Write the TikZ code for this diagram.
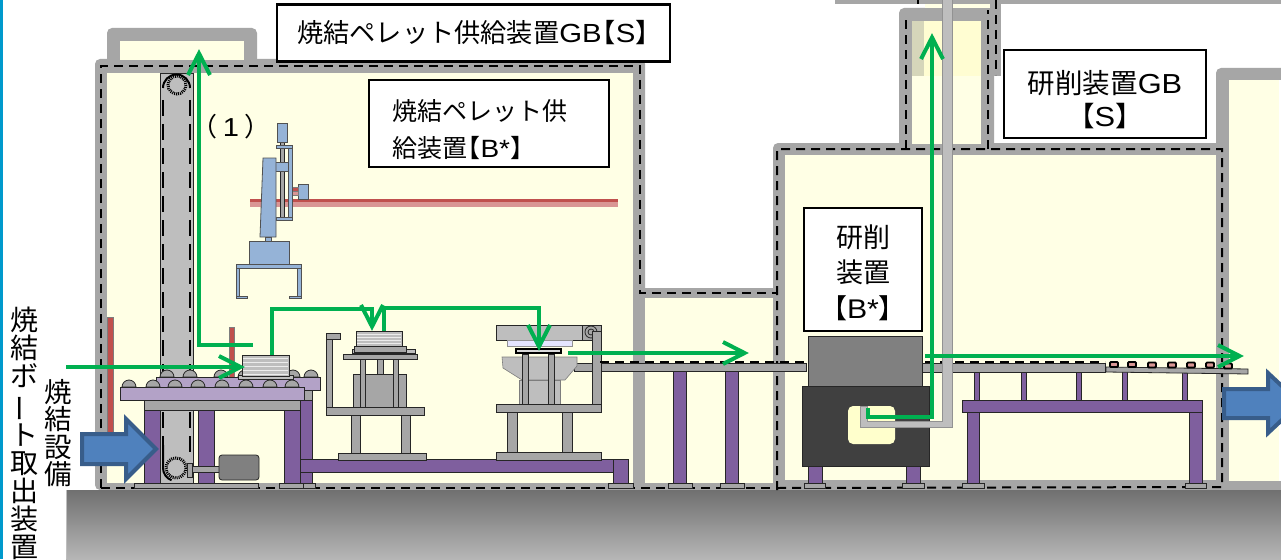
\documentclass[tikz,border=0pt]{standalone}
\usepackage{fontspec}
\setmainfont{Noto Sans CJK JP}
\newfontfamily\lat{Liberation Sans}
\usetikzlibrary{arrows.meta}
\definecolor{yel}{HTML}{FFFFE5}
\definecolor{wall}{HTML}{A6A6A6}
\definecolor{metalc}{HTML}{A6A6A6}
\definecolor{lightm}{HTML}{BEBEBE}
\definecolor{purpc}{HTML}{7F5F9E}
\definecolor{lilac}{HTML}{B3A2C7}
\definecolor{robotc}{HTML}{95B3D7}
\definecolor{redc}{HTML}{C0504D}
\definecolor{pinkc}{HTML}{D99694}
\definecolor{greenc}{HTML}{00B050}
\definecolor{edgec}{HTML}{262626}
\definecolor{stripe}{HTML}{0099CC}
\newcommand{\R}[5]{\path[#5] (#1,#2) rectangle (#3,#4);}
\newcommand{\Roll}[2]{\path[metal] (#1-7,#2) arc[start angle=180,end angle=360,radius=7] -- cycle;}
\newcommand{\VBar}{\rotatebox[origin=c]{90}{ー}}
\newcommand{\LT}[1]{{\lat\scalebox{1.12}[1]{#1}}}
\newcommand{\LB}{\leavevmode\kern-13pt【}
\newcommand{\RB}{】\kern-13pt\relax}
\newcommand{\Chev}[2]{\draw[chev,shift={(#1)},rotate=#2] (-24,11) -- (-2.5,0) -- (-24,-11);}
\tikzset{
  x=1pt,y=-1pt,
  wallf/.style={fill=wall,rounded corners=5pt},
  room/.style={fill=yel},
  metal/.style={fill=metalc,draw=edgec,line width=0.8pt},
  lmetal/.style={fill=lightm,draw=edgec,line width=0.8pt},
  purp/.style={fill=purpc,draw=edgec,line width=0.8pt},
  lil/.style={fill=lilac,draw=edgec,line width=0.8pt},
  robot/.style={fill=robotc,draw=edgec!80,line width=0.8pt},
  redbar/.style={fill=redc,draw=edgec!60,line width=0.6pt},
  encl/.style={draw=black,line width=2pt,dash pattern=on 9pt off 6pt},
  belt/.style={draw=black,line width=2pt,dash pattern=on 16pt off 8pt},
  flow/.style={draw=greenc,line width=4pt,shorten >=3pt},
  chev/.style={draw=greenc,line width=4pt,miter limit=10},
  sprocket/.style={draw=black,line width=3pt,dash pattern=on 1pt off 1pt,fill=lightm},
  lbox/.style={draw=black,line width=2.6pt,fill=white,inner sep=0pt,font=\fontsize{26}{33}\selectfont,align=center},
  ptext/.style={inner sep=0pt,font=\fontsize{26}{32}\selectfont,align=center},
}
\begin{document}
\begin{tikzpicture}
\path[clip] (0,0) rectangle (1281,559);
\fill[white] (0,0) rectangle (1281,559);
\fill[stripe] (0,0) rectangle (3,559);
% walls
\R{107}{28}{257}{75}{wallf}
\R{95}{59}{645}{490}{wallf}
\R{633}{288}{785}{490}{wallf}
\R{773}{143}{1229}{490}{wallf}
\R{899}{8}{994}{150}{wallf}
\R{987}{0}{1001}{76}{fill=wall}
\R{835}{0}{1281}{4}{fill=wall}
\R{925}{4}{990}{8}{room}
\R{1216}{68}{1300}{490}{wallf}
\fill[wall] (1216,480) rectangle (1281,495);
% rooms
\R{120}{41}{244}{60}{room}
\R{107}{73}{633}{483}{room}
\R{645}{298}{773}{483}{room}
\R{785}{155}{1216}{480}{room}
\R{912}{21}{981}{144}{room}
\R{924}{21}{981}{76}{fill={rgb,255:red,255;green,253;blue,210}}
\R{912}{21}{924}{76}{fill={rgb,255:red,214;green,214;blue,186}}
\R{1229}{80}{1279}{481}{room}
\fill[white] (1279,80) rectangle (1281,481);
% ground
\shade[top color={rgb,255:red,112;green,112;blue,112},bottom color={rgb,255:red,182;green,182;blue,182}] (66,490) rectangle (1281,559);
\draw[lightm,line width=1pt] (66,490) -- (66,559);
% dashed enclosures
\draw[encl] (101,488) -- (101,66) -- (640,66) -- (640,293) -- (777,293);
\draw[encl] (101,488) -- (777,488);
\draw[encl] (777,490) -- (777,149) -- (1222,149) -- (1222,487) -- (777,488);
\draw[encl] (906,149) -- (906,18);
\draw[encl] (988,149) -- (988,10);
\draw[encl] (996,0) -- (996,75);
\draw[encl] (918,0) -- (918,4);
% rails behind
\R{107}{317}{113}{432}{redbar}
% conveyor column
\R{160}{73}{193}{483}{fill=lightm,draw=edgec,line width=0.5pt}
\draw[belt] (163,100) -- (163,455);
\draw[belt] (190,100) -- (190,455);
\draw[line width=2pt] (163,88) arc[start angle=180,end angle=360,radius=13.5];
\draw[line width=2pt] (163,445) -- (163,468) arc[start angle=180,end angle=110,radius=13];
\draw[sprocket] (177,85) circle[radius=9];
\draw[sprocket] (176,468) circle[radius=10];
\R{229}{327}{234}{380}{redbar}
% robot rail
\R{250}{199}{618}{202}{fill=redc}
\R{250}{202}{618}{207}{fill=pinkc}
% robot
\R{298}{184}{308}{199}{robot}
\R{292}{187}{298}{191}{fill=redc,draw=edgec!60,line width=.5pt}
\R{292}{191}{298}{195}{fill=pinkc,draw=edgec!60,line width=.5pt}
\R{280}{142}{284}{218}{fill=gray!70,draw=edgec,line width=.8pt}
\R{277}{123}{287}{142}{robot}
\R{288}{147}{292}{220}{robot}
\R{276}{145}{292}{148}{robot}
\R{276}{217}{292}{220}{robot}
\R{275}{162}{288}{171}{robot}
\path[robot] (263,158) -- (276,158) -- (276,237) -- (260,237) -- cycle;
\R{265}{237}{271}{242}{robot}
\R{249}{241}{289}{264}{robot}
\R{236}{264}{301}{268}{robot}
\R{236}{268}{239}{298}{robot}
\R{297}{268}{301}{298}{robot}
\R{236}{296}{247}{298}{robot}
\R{289}{296}{301}{298}{robot}
% roller table
\foreach \rx in {167,190,221,245,270,293,311}{\Roll{\rx}{377}}
\R{156}{377}{320}{390}{lil}
\foreach \rx in {129,153,175,198,222,246,270,292}{\Roll{\rx}{387}}
\R{120}{387}{304}{400}{lil}
\R{144}{400}{300}{410}{metal}
\R{304}{390}{312}{400}{metal}
\R{300}{400}{312}{483}{purp}
\R{284}{410}{300}{483}{purp}
\R{144}{410}{160}{483}{purp}
\R{198}{410}{214}{483}{purp}
\R{134}{483}{258}{488}{metal}
\R{279}{483}{303}{488}{metal}
\R{303}{483}{315}{488}{metal}
\R{192}{466}{219}{472}{metal}
\R{187}{463}{192}{477}{metal}
\path[fill=gray,draw=edgec,line width=.8pt,rounded corners=3pt] (219,455) rectangle (259,480);
% long purple beam
\R{300}{459}{628}{472}{purp}
\R{613}{459}{628}{483}{purp}
\R{608}{483}{633}{488}{metal}
% stack on table
\R{238}{375}{293}{379}{lmetal}
\R{242}{355}{289}{376}{lmetal}
\foreach \sy in {358,362,366,370,374}{\draw[white!85!gray,line width=1pt] (243,\sy) -- (288,\sy);}
% lifter 1
\R{326}{339}{332}{407}{metal}
\R{326}{333}{340}{339}{metal}
\R{351}{415}{360}{453}{metal}
\R{401}{415}{410}{453}{metal}
\R{338}{453}{426}{460}{metal}
\R{353}{374}{406}{407}{metal}
\R{377}{359}{383}{374}{metal}
\R{360}{351}{365}{407}{metal}
\R{393}{351}{398}{407}{metal}
\R{326}{407}{424}{415}{metal}
\R{343}{354}{417}{359}{metal}
\R{352}{349}{415}{353}{lmetal}
\R{354}{346}{406}{352}{metal}
\R{356}{331}{402}{346}{lmetal}
\foreach \sy in {334,337,340,343}{\draw[white!85!gray,line width=1pt] (357,\sy) -- (401,\sy);}
% lifter 2
\R{574}{363}{806}{371}{metal}
\path[fill=lightm,draw=edgec!60,line width=.6pt] (502,357) -- (577,357) -- (577,366) -- (565,380) -- (522,380) -- (503,368) -- cycle;
\R{519}{380}{560}{405}{fill=lightm,draw=edgec!60,line width=.6pt}
\R{522}{354}{528}{405}{metal}
\R{548}{354}{554}{405}{metal}
\R{496}{325}{582}{340}{lmetal}
\R{582}{325}{601}{340}{metal}
\draw[edgec,line width=.8pt] (591,332) circle[radius=6] (591,332) circle[radius=3];
\R{507}{340}{572}{346}{fill=blue!10,draw=edgec!50,line width=.5pt}
\R{516}{349}{561}{353}{fill=white!70!gray,draw=black,line width=1.2pt}
\R{592}{331}{601}{404}{metal}
\R{496}{404}{601}{412}{metal}
\R{507}{412}{517}{452}{metal}
\R{562}{412}{572}{452}{metal}
\R{496}{452}{601}{460}{metal}
% conveyor legs
\R{673}{371}{686}{483}{purp}
\R{725}{371}{738}{483}{purp}
\R{668}{483}{692}{488}{metal}
\R{720}{483}{744}{488}{metal}
\draw[encl] (600,362) -- (806,362);
\draw[encl] (925,362) -- (1105,362);
% table at right
\foreach \sx in {974,1021,1076,1122,1182}{\R{\sx}{371}{\sx+5}{400}{purp}}
\R{962}{400}{1202}{412}{purp}
\R{967}{412}{979}{483}{purp}
\R{1189}{412}{1202}{483}{purp}
\R{962}{483}{984}{488}{metal}
\R{1185}{483}{1206}{488}{metal}
\R{922}{363}{1105}{372}{metal}
\path[metal] (1106,367) -- (1248,369) -- (1248,374) -- (1106,372) -- cycle;
\foreach \bx/\by in {1114/364.5,1132/364.5,1152/365,1172/365,1191/365,1210/365,1228/366}{
  \path[fill=pinkc,draw=black,line width=1.8pt,rounded corners=1pt] (\bx-4,\by-2.5) rectangle (\bx+4,\by+2.5);}
% machine
\R{808}{336}{922}{386}{fill=gray,draw=edgec,line width=.8pt}
\R{808}{466}{822}{483}{purp}
\R{906}{466}{920}{483}{purp}
\R{804}{483}{825}{488}{metal}
\R{902}{483}{924}{488}{metal}
\R{802}{386}{929}{466}{fill={rgb,255:red,64;green,64;blue,64},draw=edgec,line width=.8pt}
\path[fill={rgb,255:red,255;green,255;blue,204},rounded corners=5pt] (848,406) rectangle (895,444);
\path[fill=lightm,draw=edgec!50,line width=.5pt] (860,406) -- (867,406) -- (867,421) -- (942,421) -- (942,-2) -- (952,-2) -- (952,427) -- (860,427) -- cycle;
% green flows
\coordinate (a1) at (66,367); \coordinate (a2) at (243,367);
\coordinate (b1) at (253,345); \coordinate (b2) at (199,345); \coordinate (b3) at (199,51);
\coordinate (c1) at (272,355); \coordinate (c2) at (272,309); \coordinate (c3) at (372,309); \coordinate (c4) at (372,329);
\coordinate (d1) at (384,331); \coordinate (d2) at (384,308); \coordinate (d3) at (539,308); \coordinate (d4) at (539,349);
\coordinate (e1) at (568,353); \coordinate (e2) at (747,353);
\coordinate (f1) at (868,408); \coordinate (f2) at (868,417); \coordinate (f3) at (932,417); \coordinate (f4) at (932,35);
\coordinate (g1) at (925,356); \coordinate (g2) at (1242,356);
\draw[flow] (a1) -- (a2); \Chev{a2}{0}
\draw[flow] (b1) -- (b2) -- (b3); \Chev{b3}{90}
\draw[flow] (c1) -- (c2) -- (c3) -- (c4); \Chev{c4}{-90}
\draw[flow] (d1) -- (d2) -- (d3) -- (d4); \Chev{d4}{-90}
\draw[flow] (e1) -- (e2); \Chev{e2}{0}
\draw[flow] (f1) -- (f2) -- (f3) -- (f4); \Chev{f4}{90}
\draw[flow] (g1) -- (g2); \Chev{g2}{0}
% big arrows
\path[fill={rgb,255:red,79;green,129;blue,189},draw={rgb,255:red,56;green,93;blue,138},line width=4pt] (82,434) -- (126,434) -- (126,419) -- (156,449) -- (126,479) -- (126,464) -- (82,464) -- cycle;
\path[fill={rgb,255:red,79;green,129;blue,189},draw={rgb,255:red,56;green,93;blue,138},line width=4pt] (1224,389) -- (1268,389) -- (1268,373) -- (1300,403) -- (1268,433) -- (1268,418) -- (1224,418) -- cycle;
% labels
\node[lbox,minimum width=393pt,minimum height=57pt,font=\fontsize{26.2}{33}\selectfont] (gb1) at (473.5,33) {\raisebox{-3pt}{焼結ペレット供給装置\LT{GB}\kern-12pt【\LT{S}】\kern-12pt}};
\node[lbox,minimum width=240pt,minimum height=87pt,align=left,font=\fontsize{25}{36.5}\selectfont] (b1n) at (489,123.5) {\rule{0pt}{33pt}焼結ペレット供\hspace*{18pt}\\給装置\kern-12pt【\LT{B*}】};
\node[lbox,minimum width=202pt,minimum height=88pt,font=\fontsize{27.5}{33}\selectfont] (gb2) at (1105,94) {\rule{0pt}{34pt}研削装置\LT{GB}\\\LB\LT{S}\RB};
\node[lbox,minimum width=118pt,minimum height=123pt,font=\fontsize{27}{35.5}\selectfont] (b2n) at (863,269.5) {\rule{0pt}{29pt}研削\\装置\\\LB\LT{B*}\RB};
\node[ptext] (n1) at (231,127) {（\kern5pt\LT{1}\kern5pt）};
\node[ptext,anchor=north,font=\fontsize{28}{28}\selectfont] (v1) at (24,307) {焼\\結\\ボ\\\VBar\\ト\\取\\出\\装\\置};
\node[ptext,anchor=north,font=\fontsize{27.5}{27.5}\selectfont] (v2) at (58,379) {焼\\結\\設\\備};
\end{tikzpicture}
\end{document}
